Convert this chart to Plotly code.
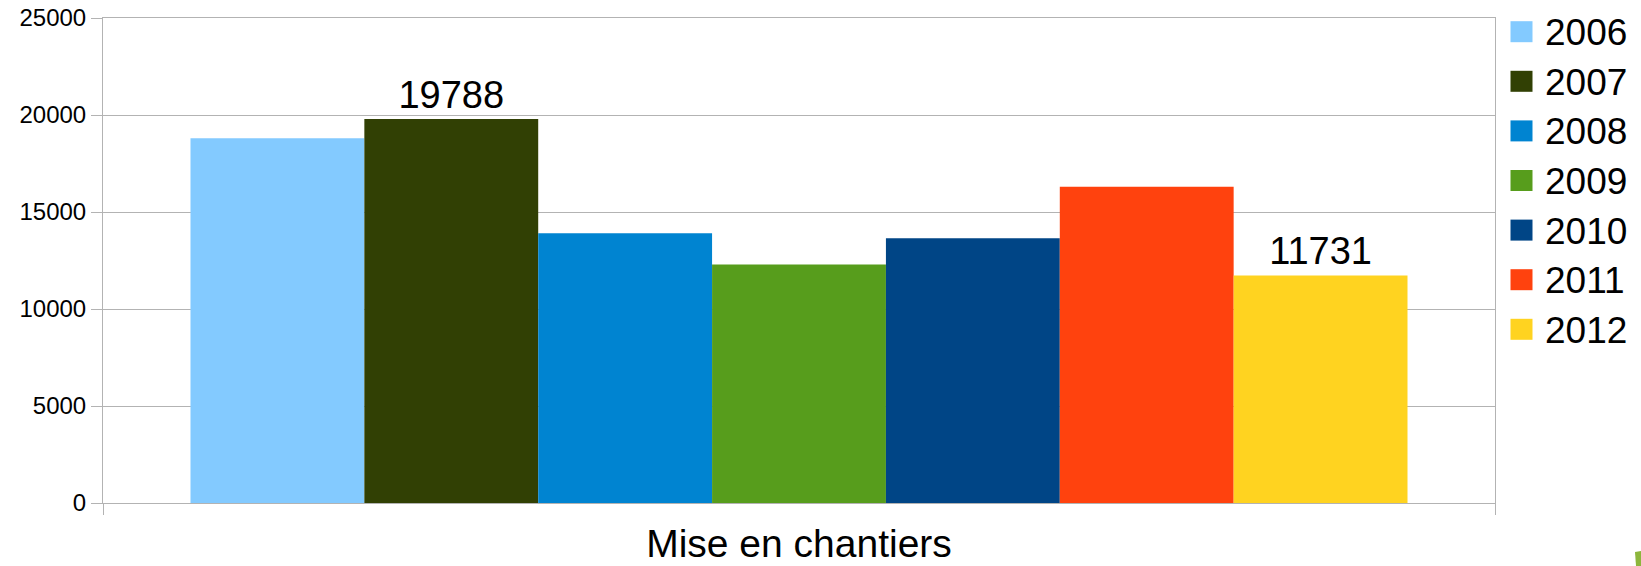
import plotly.graph_objects as go

categories = ["Mise en chantiers"]
years = ["2006", "2007", "2008", "2009", "2010", "2011", "2012"]
values = [18800, 19788, 13900, 12300, 13650, 16300, 11731]
labels = ["", "19788", "", "", "", "", "11731"]
colors = ["#83CAFF", "#314004", "#0084D1", "#579D1C", "#004586", "#FF420E", "#FFD320"]

W, H = 1641, 566
ML, MR, MT, MB = 103, 146, 18, 63
FONT = "Liberation Sans, Arial, sans-serif"
GRID = "#b3b3b3"

fig = go.Figure()
for yr, v, lab, c in zip(years, values, labels, colors):
    fig.add_trace(go.Bar(
        x=categories, y=[v], name=yr,
        marker=dict(color=c, line=dict(width=0)),
        text=[lab], textposition="outside",
        textfont=dict(size=38, color="black", family=FONT),
        cliponaxis=False, hoverinfo="skip", showlegend=False,
    ))

pw = W - ML - MR
ph = H - MT - MB
def px(x):
    return (x - ML) / pw
def py(y):
    return (H - MB - y) / ph

shapes = []
annotations = []
# legend (drawn as shapes + text, sized like the reference)
for i, (yr, c) in enumerate(zip(years, colors)):
    cy = 31.7 + i * 49.6
    shapes.append(dict(
        type="rect", xref="paper", yref="paper",
        x0=px(1510.5), x1=px(1532.5), y0=py(cy - 10.5), y1=py(cy + 10.5),
        fillcolor=c, line=dict(width=0),
    ))
    annotations.append(dict(
        text=yr, xref="paper", yref="paper", x=px(1543), y=py(cy + 1),
        xanchor="left", yanchor="middle", showarrow=False,
        font=dict(size=37, family=FONT, color="black"),
    ))

shapes.append(dict(
    type="path", xref="paper", yref="paper",
    path=f"M {px(1635)},{py(552)} L {px(1641)},{py(551)} L {px(1641)},{py(566)} L {px(1636)},{py(566)} Z",
    fillcolor="#8DB63C", line=dict(width=0),
))

fig.update_layout(
    width=W, height=H,
    margin=dict(l=ML, r=MR, t=MT, b=MB, pad=0, autoexpand=False),
    paper_bgcolor="white", plot_bgcolor="white",
    barmode="group", bargap=0.1257, bargroupgap=0,
    font=dict(family=FONT, color="black"),
    showlegend=False,
    xaxis=dict(
        type="category", showline=True, linecolor=GRID, linewidth=1, mirror=True,
        ticks="outside", tickson="boundaries", ticklen=11, tickcolor=GRID,
        showgrid=False, tickfont=dict(size=39, family=FONT, color="black"),
        automargin=False, ticklabelstandoff=6,
    ),
    yaxis=dict(
        range=[0, 25000], dtick=5000, tickformat="d",
        showline=True, linecolor=GRID, linewidth=1, mirror=True,
        ticks="outside", ticklen=11, tickcolor=GRID,
        showgrid=True, gridcolor=GRID, gridwidth=1, zeroline=False,
        tickfont=dict(size=24, family=FONT, color="black"),
        automargin=False,
    ),
    shapes=shapes,
    annotations=annotations,
)

fig.write_html("out.html")
